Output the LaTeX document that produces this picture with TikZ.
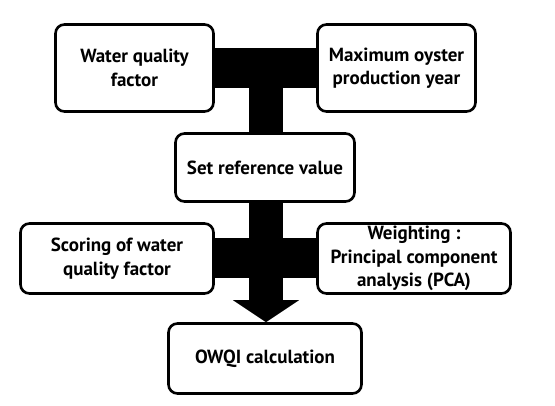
\documentclass[tikz,border=0pt]{standalone}
\usepackage{fontspec}
\setmainfont{PT Sans}
\usetikzlibrary{arrows.meta}
\begin{document}
\begin{tikzpicture}[x=1pt,y=-1pt,
  box/.style={draw=black,line width=2.6pt,rounded corners=9pt,fill=white,
    align=center,inner sep=0pt,font=\bfseries\fontsize{19}{23.5}\selectfont},
  bar/.style={line width=40pt,draw=black,line cap=butt},
  vbar/.style={line width=34pt,draw=black,line cap=butt}]
\useasboundingbox (0,0) rectangle (555,406);
\coordinate (top) at (266,68);
% bars behind boxes
\draw[bar] (134.5,68) coordinate (c1) -- (396.5,68) coordinate (c2);
\draw[vbar] (top) -- (266,170) coordinate (c3);
\draw[bar] (117,258.5) coordinate (c4) -- (414,258.5) coordinate (c5);
\node[box,minimum width=158pt,minimum height=87pt] (b1) at (c1) {Water quality\\factor};
\node[box,minimum width=158pt,minimum height=87pt] (b2) at (c2) {Maximum oyster\\production year};
\node[box,minimum width=179pt,minimum height=68pt] (b3) at (265,167.5) {Set reference value};
\node[box,minimum width=193pt,minimum height=70pt] (b4) at (c4) {Scoring of water\\quality factor};
\node[box,minimum width=193pt,minimum height=70pt] (b6) at (265,358.5) {OWQI calculation};
\draw[vbar,-{Triangle[length=22pt 0 0,width=65pt 0 0]}] (b3.south -| top) -- (b6.north -| top);
\node[box,minimum width=193pt,minimum height=70pt] (b5) at (c5) {Weighting :\\Principal component\\analysis (PCA)};
\end{tikzpicture}
\end{document}
